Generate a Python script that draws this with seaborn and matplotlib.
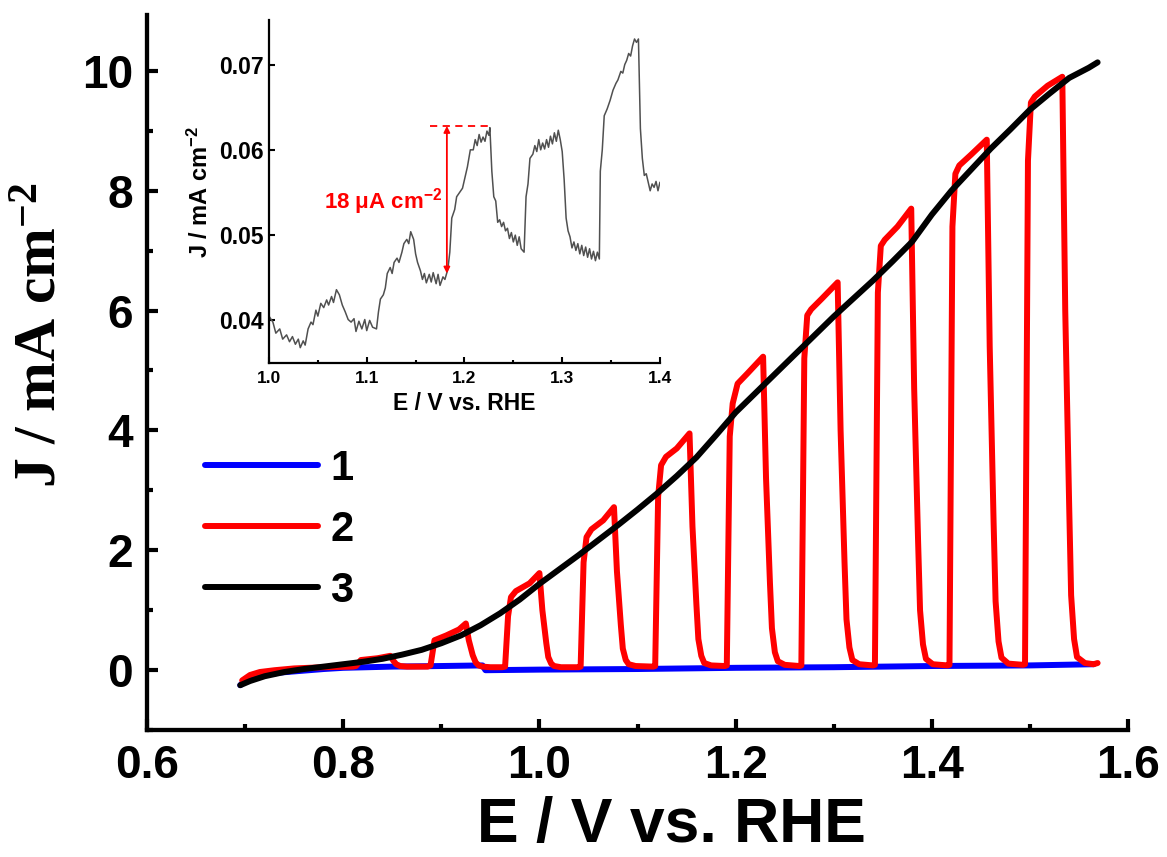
import numpy as np
import pandas as pd
import seaborn as sns
import matplotlib.pyplot as plt
from matplotlib.ticker import MultipleLocator

# curva 1: oscuridad (azul)
e_dark = [0.695, 0.700, 0.710, 0.720, 0.735, 0.750, 0.780, 0.800, 0.850, 0.900, 0.942,
          0.945, 1.000, 1.100, 1.200, 1.300, 1.400, 1.500, 1.565]
j_dark = [-0.25, -0.18, -0.12, -0.08, -0.04, -0.02, 0.02, 0.04, 0.06, 0.07, 0.08,
          0.00, 0.01, 0.02, 0.04, 0.05, 0.07, 0.08, 0.10]

# curva 2: luz cortada (rojo)
e_chop = [0.697, 0.705, 0.715, 0.730, 0.750, 0.780, 0.810,
          0.813, 0.818, 0.835, 0.848, 0.851, 0.854, 0.858, 0.865, 0.886,
          0.889, 0.893, 0.905, 0.918, 0.925, 0.928, 0.932, 0.935, 0.938, 0.942, 0.950, 0.962,
          0.965, 0.968, 0.971, 0.976, 0.990, 1.000, 1.003, 1.007, 1.009, 1.012, 1.015, 1.022, 1.040,
          1.042, 1.045, 1.048, 1.053, 1.065, 1.076, 1.079, 1.083, 1.085, 1.088, 1.091, 1.098, 1.116,
          1.118, 1.121, 1.124, 1.129, 1.140, 1.153, 1.156, 1.160, 1.162, 1.165, 1.168, 1.175, 1.189,
          1.191, 1.194, 1.197, 1.202, 1.212, 1.228, 1.231, 1.235, 1.237, 1.240, 1.243, 1.250, 1.265,
          1.267, 1.270, 1.273, 1.277, 1.288, 1.304, 1.307, 1.311, 1.313, 1.316, 1.319, 1.326, 1.340,
          1.342, 1.345, 1.348, 1.352, 1.365, 1.379, 1.382, 1.386, 1.388, 1.391, 1.394, 1.401, 1.416,
          1.418, 1.421, 1.424, 1.428, 1.440, 1.456, 1.459, 1.463, 1.465, 1.468, 1.471, 1.478, 1.493,
          1.495, 1.498, 1.501, 1.505, 1.518, 1.533, 1.536, 1.540, 1.542, 1.545, 1.548, 1.556, 1.565, 1.569]
j_chop = [-0.17, -0.08, -0.03, 0.00, 0.03, 0.05, 0.06,
          0.07, 0.17, 0.20, 0.24, 0.16, 0.10, 0.07, 0.06, 0.06,
          0.08, 0.50, 0.58, 0.68, 0.78, 0.50, 0.25, 0.13, 0.08, 0.06, 0.05, 0.05,
          0.06, 0.90, 1.22, 1.32, 1.45, 1.62, 1.00, 0.45, 0.22, 0.11, 0.07, 0.05, 0.05,
          0.06, 1.80, 2.22, 2.35, 2.50, 2.72, 1.65, 0.75, 0.36, 0.17, 0.10, 0.07, 0.06,
          0.07, 2.90, 3.42, 3.56, 3.70, 3.95, 2.40, 1.10, 0.52, 0.24, 0.12, 0.08, 0.07,
          0.08, 3.90, 4.45, 4.78, 4.95, 5.23, 3.20, 1.45, 0.70, 0.30, 0.15, 0.09, 0.07,
          0.08, 5.20, 5.92, 6.02, 6.20, 6.47, 4.00, 1.80, 0.85, 0.38, 0.17, 0.10, 0.08,
          0.09, 6.30, 7.08, 7.18, 7.40, 7.70, 4.70, 2.15, 1.00, 0.43, 0.19, 0.10, 0.08,
          0.09, 7.40, 8.28, 8.42, 8.60, 8.85, 5.40, 2.45, 1.15, 0.48, 0.21, 0.11, 0.09,
          0.10, 8.50, 9.47, 9.57, 9.75, 9.90, 6.00, 2.75, 1.25, 0.52, 0.22, 0.12, 0.10, 0.12]

# curva 3: luz continua (negro)
e_light = [0.695, 0.705, 0.720, 0.740, 0.760, 0.780, 0.800, 0.820, 0.840, 0.860, 0.880,
           0.900, 0.920, 0.940, 0.960, 0.980, 1.000, 1.020, 1.040, 1.060, 1.080, 1.100,
           1.120, 1.140, 1.160, 1.180, 1.200, 1.220, 1.240, 1.260, 1.280, 1.300, 1.320,
           1.340, 1.360, 1.380, 1.400, 1.420, 1.440, 1.460, 1.480, 1.500, 1.520, 1.540,
           1.560, 1.569]
j_light = [-0.25, -0.18, -0.10, -0.03, 0.02, 0.06, 0.10, 0.14, 0.19, 0.26, 0.34,
           0.45, 0.58, 0.75, 0.95, 1.18, 1.44, 1.68, 1.92, 2.17, 2.42, 2.68,
           2.95, 3.24, 3.55, 3.92, 4.30, 4.62, 4.94, 5.26, 5.58, 5.90, 6.20,
           6.50, 6.82, 7.15, 7.60, 8.00, 8.35, 8.70, 9.02, 9.35, 9.62, 9.88,
           10.05, 10.14]

# inserto: diferencia de fotocorriente
e_ins = [1.000, 1.004, 1.007, 1.011, 1.014, 1.018, 1.021, 1.024, 1.027, 1.030, 1.032, 1.035, 1.037,
         1.040, 1.043, 1.045, 1.048, 1.050, 1.053, 1.056, 1.059, 1.061, 1.064, 1.066, 1.069, 1.072,
         1.075, 1.078, 1.081, 1.084, 1.087, 1.089, 1.092, 1.095, 1.098, 1.100, 1.103, 1.106, 1.110,
         1.112, 1.114, 1.117, 1.119, 1.121, 1.124, 1.126, 1.128, 1.131, 1.133, 1.136, 1.138, 1.141,
         1.143, 1.145, 1.148, 1.150, 1.152, 1.155, 1.157, 1.159, 1.161, 1.164, 1.166, 1.168, 1.171,
         1.173, 1.175, 1.178, 1.180, 1.183, 1.185, 1.187, 1.190, 1.192, 1.195, 1.198, 1.200, 1.203,
         1.206, 1.209, 1.211, 1.213, 1.215, 1.217, 1.219, 1.221, 1.223, 1.225, 1.226, 1.228, 1.230,
         1.232, 1.234, 1.236, 1.238, 1.240, 1.242, 1.244, 1.246, 1.248, 1.250, 1.252, 1.254, 1.256,
         1.258, 1.261, 1.263, 1.265, 1.267, 1.270, 1.272, 1.274, 1.276, 1.278, 1.280, 1.282, 1.284,
         1.286, 1.288, 1.290, 1.292, 1.294, 1.296, 1.298, 1.300, 1.302, 1.304, 1.306, 1.308, 1.310,
         1.312, 1.314, 1.316, 1.318, 1.320, 1.322, 1.324, 1.326, 1.328, 1.330, 1.332, 1.334, 1.336,
         1.338, 1.339, 1.341, 1.343, 1.346, 1.349, 1.352, 1.355, 1.357, 1.360, 1.362, 1.364, 1.366,
         1.368, 1.370, 1.372, 1.374, 1.376, 1.378, 1.380, 1.382, 1.384, 1.386, 1.388, 1.390, 1.392,
         1.394, 1.396, 1.398, 1.400]
j_ins = [0.0405, 0.0398, 0.0385, 0.0390, 0.0378, 0.0383, 0.0375, 0.0381, 0.0372, 0.0378, 0.0368, 0.0376, 0.0371,
         0.0390, 0.0398, 0.0395, 0.0412, 0.0405, 0.0420, 0.0415, 0.0424, 0.0418, 0.0428, 0.0421, 0.0436, 0.0430,
         0.0418, 0.0410, 0.0401, 0.0398, 0.0402, 0.0387, 0.0399, 0.0390, 0.0401, 0.0388, 0.0400, 0.0392, 0.0390,
         0.0410, 0.0425, 0.0430, 0.0438, 0.0455, 0.0462, 0.0455, 0.0468, 0.0473, 0.0468, 0.0480, 0.0490, 0.0495,
         0.0490, 0.0504, 0.0495, 0.0478, 0.0468, 0.0458, 0.0448, 0.0455, 0.0444, 0.0454, 0.0445, 0.0456, 0.0443,
         0.0454, 0.0441, 0.0451, 0.0448, 0.0460, 0.0480, 0.0520, 0.0530, 0.0545, 0.0550, 0.0555, 0.0565, 0.0580,
         0.0600, 0.0600, 0.0612, 0.0605, 0.0618, 0.0609, 0.0615, 0.0610, 0.0622, 0.0617, 0.0626, 0.0575, 0.0545,
         0.0540, 0.0515, 0.0518, 0.0510, 0.0515, 0.0505, 0.0508, 0.0496, 0.0503, 0.0492, 0.0500, 0.0488, 0.0498,
         0.0484, 0.0480, 0.0545, 0.0560, 0.0590, 0.0595, 0.0605, 0.0598, 0.0612, 0.0600, 0.0608, 0.0601, 0.0612,
         0.0603, 0.0616, 0.0607, 0.0620, 0.0610, 0.0623, 0.0612, 0.0598, 0.0565, 0.0520, 0.0505, 0.0498, 0.0485,
         0.0492, 0.0482, 0.0490, 0.0478, 0.0488, 0.0476, 0.0486, 0.0474, 0.0484, 0.0472, 0.0481, 0.0470, 0.0480,
         0.0472, 0.0575, 0.0600, 0.0640, 0.0648, 0.0658, 0.0670, 0.0678, 0.0682, 0.0692, 0.0690, 0.0700, 0.0705,
         0.0713, 0.0710, 0.0722, 0.0730, 0.0726, 0.0730, 0.0625, 0.0590, 0.0570, 0.0572, 0.0562, 0.0552, 0.0560,
         0.0556, 0.0563, 0.0552, 0.0562]

sns.set_style("ticks")
plt.rcParams['font.family'] = ['Liberation Sans', 'DejaVu Sans']
plt.rcParams['font.weight'] = 'bold'
plt.rcParams['mathtext.default'] = 'regular'
for k in ['text.color', 'axes.labelcolor', 'xtick.color', 'ytick.color', 'axes.edgecolor']:
    plt.rcParams[k] = 'black'

fig = plt.figure(figsize=(11.67, 8.57), dpi=100)
ax = fig.add_axes([0.126, 0.148, 0.8406, 0.8345])

lw = 4.3
sns.lineplot(x=e_dark, y=j_dark, ax=ax, color='#0000FF', lw=lw, sort=False, estimator=None, label='1')
sns.lineplot(x=e_chop, y=j_chop, ax=ax, color='#FF0000', lw=lw, sort=False, estimator=None, label='2')
sns.lineplot(x=e_light, y=j_light, ax=ax, color='black', lw=lw, sort=False, estimator=None, label='3')

ax.set_xlim(0.6, 1.6)
ax.set_ylim(-1, 10.93)
ax.xaxis.set_minor_locator(MultipleLocator(0.1))
ax.yaxis.set_major_locator(MultipleLocator(2))
ax.yaxis.set_minor_locator(MultipleLocator(1))
ax.set_xticks([0.6, 0.8, 1.0, 1.2, 1.4, 1.6])
ax.set_xticklabels(['0.6', '0.8', '1.0', '1.2', '1.4', '1.6'])
sns.despine(ax=ax)
for s in ['left', 'bottom']:
    ax.spines[s].set_linewidth(3.1)
ax.tick_params(which='major', direction='in', length=8, width=3, labelsize=33, pad=10)
ax.tick_params(which='minor', direction='in', length=4, width=3)
for t in ax.get_xticklabels() + ax.get_yticklabels():
    t.set_fontweight('bold')

ax.set_xlabel('E / V vs. RHE', fontsize=45, fontweight='bold')
ax.xaxis.set_label_coords(0.535, -0.092)
ax.set_ylabel(r'J / mA cm$^{-2}$', fontsize=43, fontweight='bold',
              family=['Liberation Serif', 'DejaVu Serif'])
ax.yaxis.set_label_coords(-0.08, 0.552)

ax.legend(loc='upper left', bbox_to_anchor=(0.1757, 0.476), bbox_transform=fig.transFigure,
          frameon=False, fontsize=30, handlelength=2.7, handletextpad=0.3,
          labelspacing=0.5, borderpad=0, borderaxespad=0)

# inserto
ins = fig.add_axes([0.2305, 0.5764, 0.335, 0.400])
sns.lineplot(x=e_ins, y=j_ins, ax=ins, color='#505050', lw=1.1, sort=False, estimator=None)
ins.set_xlim(1.0, 1.4)
ins.set_ylim(0.035, 0.0752)
ins.xaxis.set_minor_locator(MultipleLocator(0.05))
ins.set_yticks([0.04, 0.05, 0.06, 0.07])
ins.set_yticklabels(['0.04', '0.05', '0.06', '0.07'])
ins.set_xticks([1.0, 1.1, 1.2, 1.3, 1.4])
ins.set_xticklabels(['1.0', '1.1', '1.2', '1.3', '1.4'])
ins.patch.set_alpha(0)
sns.despine(ax=ins)
for s in ['left', 'bottom']:
    ins.spines[s].set_linewidth(1.6)
ins.tick_params(which='major', direction='in', length=4, width=1.5)
ins.tick_params(which='minor', direction='in', length=2.5, width=1.5)
ins.tick_params(axis='x', labelsize=12.5, pad=6)
ins.tick_params(axis='y', labelsize=16.5, pad=4)
for t in ins.get_xticklabels() + ins.get_yticklabels():
    t.set_fontweight('bold')
ins.set_xlabel('E / V vs. RHE', fontsize=16.5, fontweight='bold')
ins.set_ylabel(r'J / mA cm$^{-2}$', fontsize=17, fontweight='bold')

ins.annotate('', xy=(1.182, 0.0628), xytext=(1.182, 0.0455),
             arrowprops=dict(arrowstyle='<|-|>', color='red', lw=1.3, mutation_scale=9,
                             shrinkA=0, shrinkB=0))
ins.plot([1.1645, 1.2276], [0.0628, 0.0628], color='red', lw=1.3, ls=(0, (4, 3)))
ins.text(1.177, 0.0539, r'18 μA cm$^{-2}$', color='red', fontsize=16, fontweight='bold',
         ha='right', va='center')

fig.savefig('out.png', dpi=100)
